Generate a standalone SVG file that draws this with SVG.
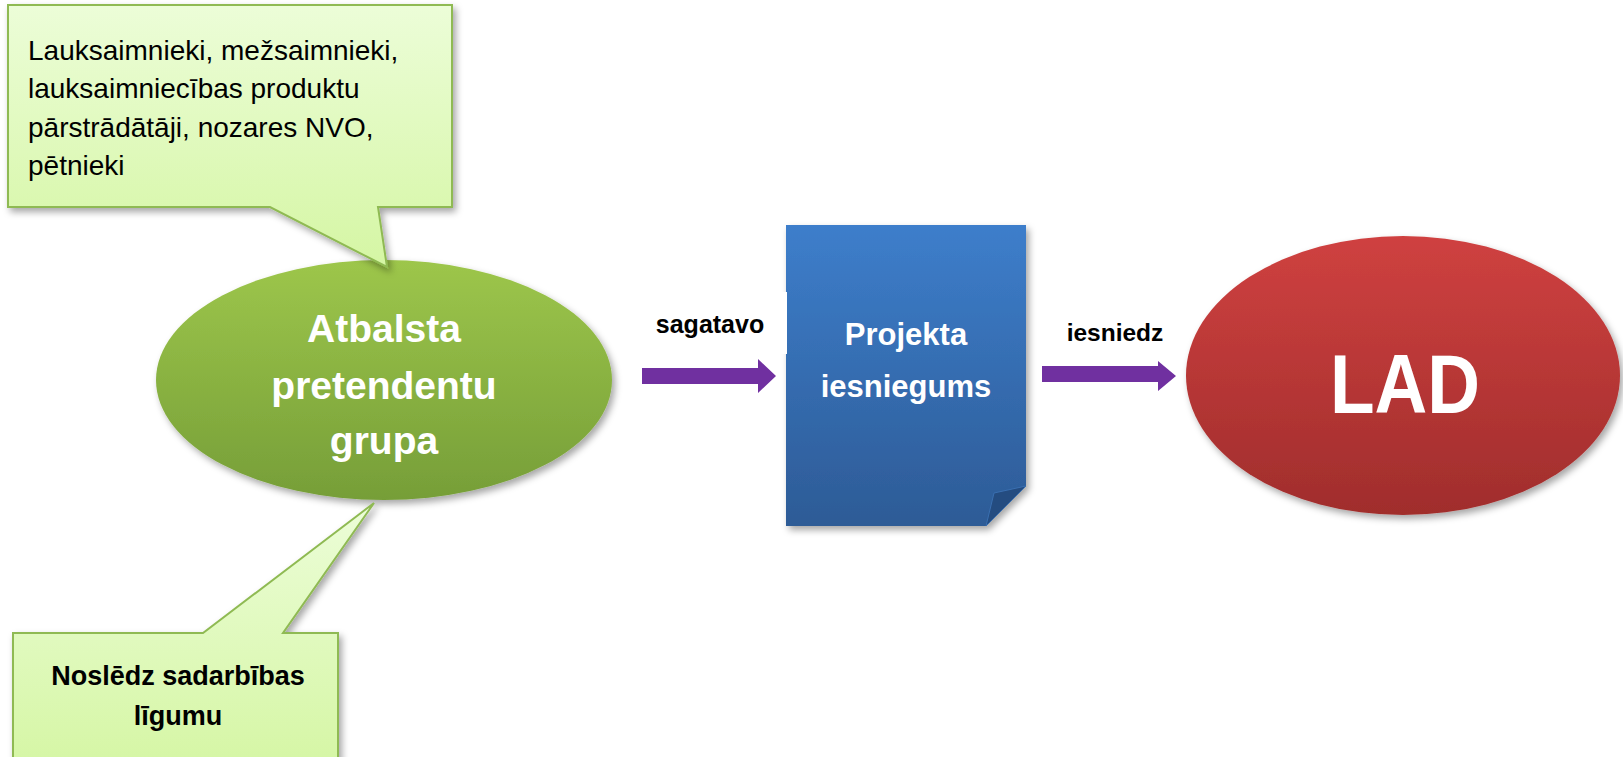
<svg xmlns="http://www.w3.org/2000/svg" width="1623" height="757" viewBox="0 0 1623 757">
<defs>
<linearGradient id="gGreen" x1="0" y1="0" x2="0" y2="1"><stop offset="0" stop-color="#9dc64b"/><stop offset="1" stop-color="#769e38"/></linearGradient>
<linearGradient id="gCall" x1="0" y1="0" x2="0" y2="1"><stop offset="0" stop-color="#ecfdd8"/><stop offset="1" stop-color="#d5f6a4"/></linearGradient>
<linearGradient id="gBlue" x1="0" y1="0" x2="0" y2="1"><stop offset="0" stop-color="#3d7ecb"/><stop offset="1" stop-color="#2d5b96"/></linearGradient>
<linearGradient id="gRed" x1="0" y1="0" x2="0" y2="1"><stop offset="0" stop-color="#cf4140"/><stop offset="1" stop-color="#a02d2c"/></linearGradient>
<filter id="sh" x="-10%" y="-10%" width="125%" height="130%"><feDropShadow dx="3" dy="4" stdDeviation="3.5" flood-color="#000" flood-opacity="0.35"/></filter>
<style>
.call{fill:url(#gCall);stroke:#8fba52;stroke-width:2;filter:url(#sh)}
.arrow{fill:#7030a0}
.t{font-family:"Liberation Sans",Arial,sans-serif}
.w{fill:#fff;font-weight:bold;text-anchor:middle}
.b{fill:#000;font-weight:bold;text-anchor:middle}
</style>
</defs>
<rect width="1623" height="757" fill="#fff"/>

<g id="node-group">
<ellipse cx="384" cy="380" rx="228" ry="120" fill="url(#gGreen)" filter="url(#sh)"/>
<text class="t w" font-size="39"><tspan x="384" y="342">Atbalsta</tspan><tspan x="384" y="399">pretendentu</tspan><tspan x="384" y="454">grupa</tspan></text>
</g>

<g id="node-members">
<path class="call" d="M8,5 H452 V207 H378 L387,267 L270,207 H8 Z"/>
<text class="t" font-size="28" fill="#000"><tspan x="28" y="60">Lauksaimnieki, mežsaimnieki,</tspan><tspan x="28" y="98">lauksaimniecības produktu</tspan><tspan x="28" y="137">pārstrādātāji, nozares NVO,</tspan><tspan x="28" y="175">pētnieki</tspan></text>
</g>

<g id="node-agreement">
<path class="call" d="M13,633 H203 L374,503 L283,633 H338 V770 H13 Z"/>
<text class="t b" font-size="27"><tspan x="178" y="685">Noslēdz sadarbības</tspan><tspan x="178" y="725">līgumu</tspan></text>
</g>

<g id="node-project">
<path d="M786,225 H1026 V486 L986,526 H786 Z" fill="url(#gBlue)" filter="url(#sh)"/>
<path d="M1026,486 L994,493 L986,526 Z" fill="#244c80" stroke="#3a6fb0" stroke-width="1"/>
<text class="t w" font-size="31"><tspan x="906" y="345">Projekta</tspan><tspan x="906" y="397">iesniegums</tspan></text>
</g>

<g id="node-lad">
<ellipse cx="1403" cy="375.5" rx="217" ry="139.5" fill="url(#gRed)" filter="url(#sh)"/>
<text class="t w" font-size="84" x="1405" y="413" textLength="150" lengthAdjust="spacingAndGlyphs">LAD</text>
</g>

<g id="connectors">
<rect x="640" y="292" width="147" height="62" fill="#fff"/>
<path class="arrow" d="M642,368 H758 V359 L776,376 L758,393 V384 H642 Z"/>
<text class="t b" font-size="25" x="710" y="333">sagatavo</text>
<path class="arrow" d="M1042,366 H1158 V361 L1176,376 L1158,391 V382 H1042 Z"/>
<text class="t b" font-size="24.5" x="1115" y="341">iesniedz</text>
</g>
</svg>
